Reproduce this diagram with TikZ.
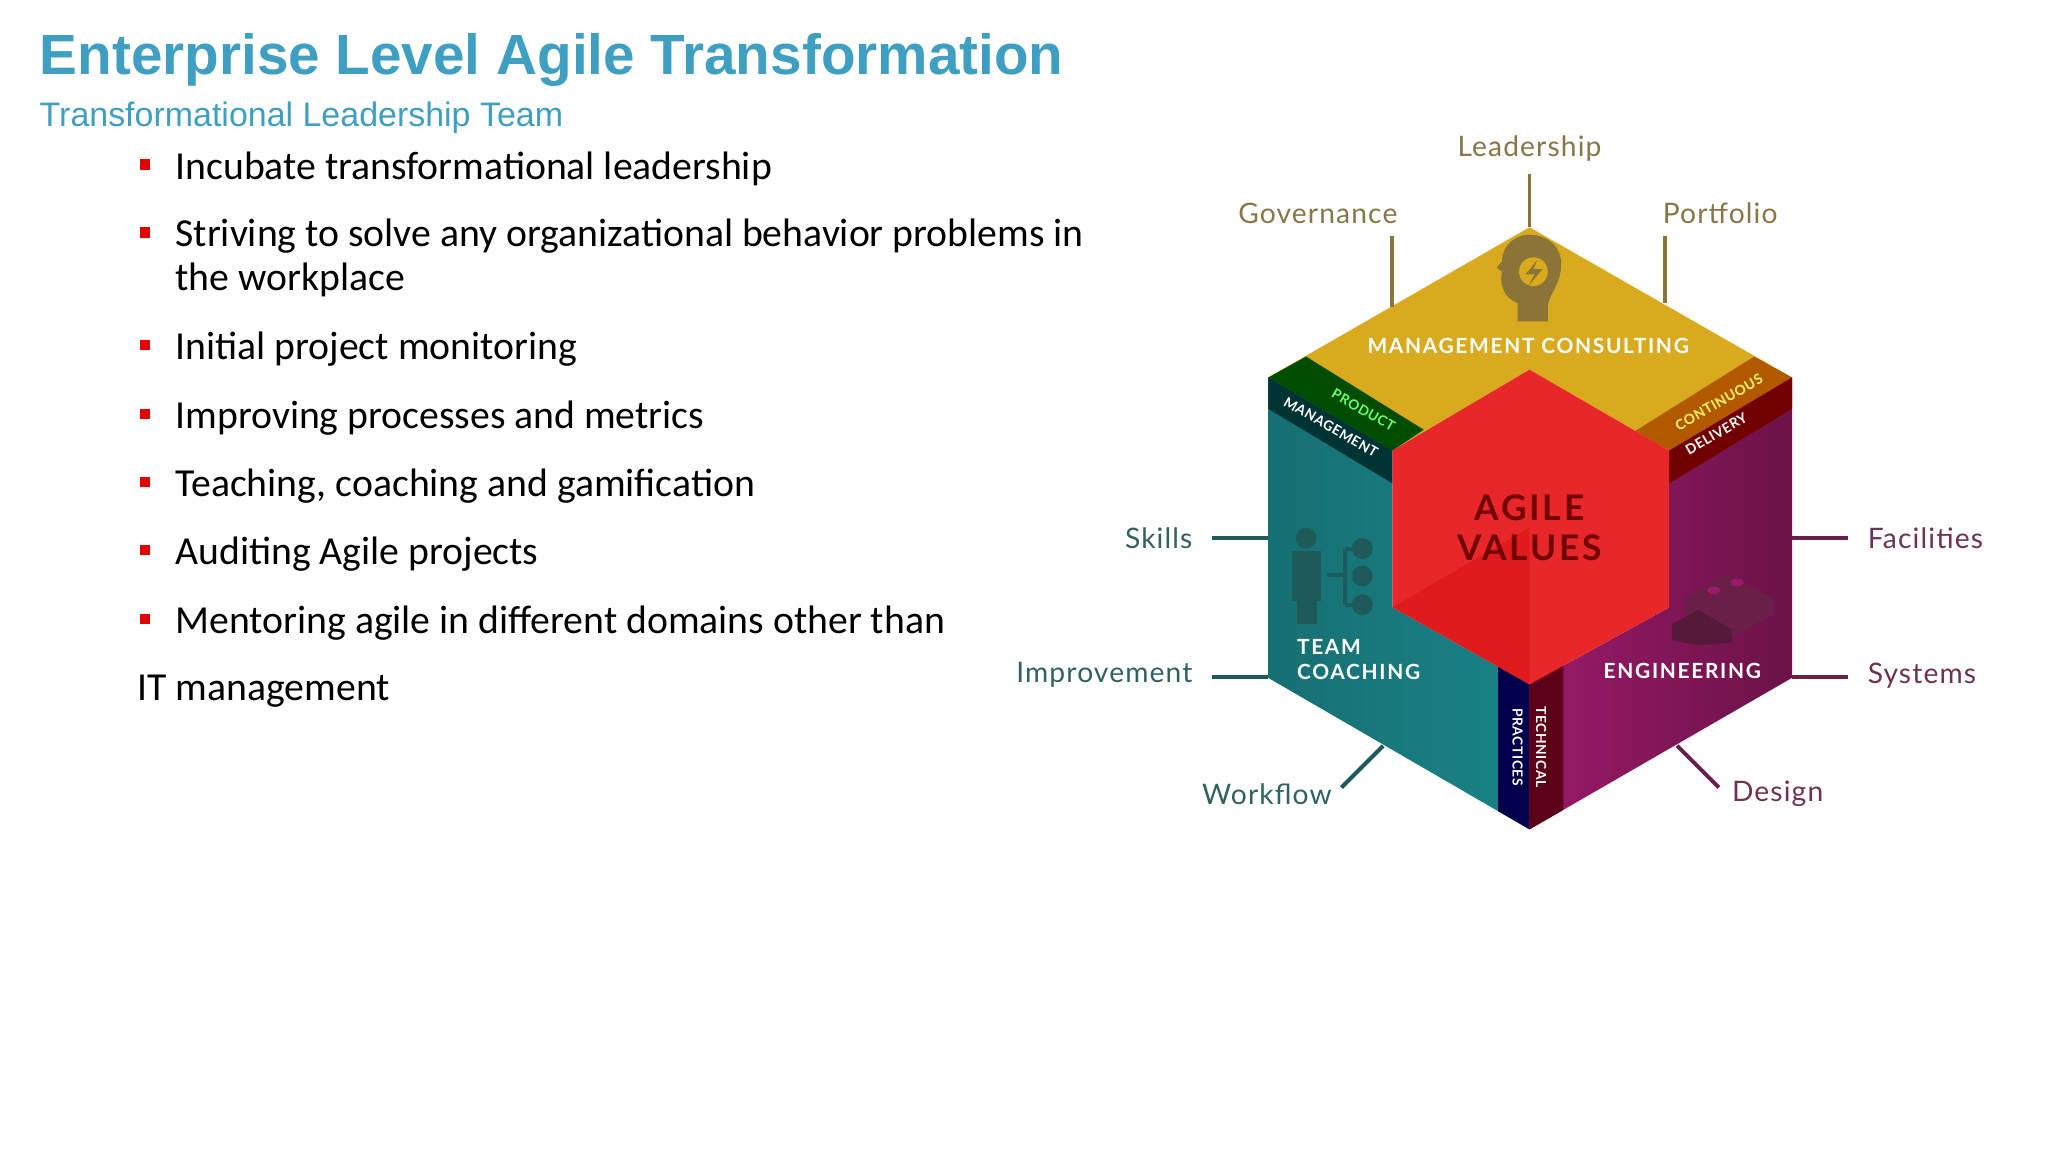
\documentclass[tikz,border=0pt]{standalone}
\usepackage{fontspec}
\setmainfont{Carlito}
\newfontfamily\arial{Liberation Sans}
\newfontfamily\lato[LetterSpace=4]{Lato}
\newfontfamily\latow[LetterSpace=8]{Lato}
\begin{document}
\begin{tikzpicture}[x=0.5pt,y=-0.5pt,
  bul/.style={anchor=west,inner sep=0,font=\fontsize{15.2}{18}\selectfont},
  sq/.style={fill=red!90!black,minimum size=4pt,inner sep=0},
  lab/.style={font=\lato\fontsize{10.8}{12}\selectfont},
  captxt/.style={font=\latow\bfseries\fontsize{8}{9.5}\selectfont,text=white,align=left},
  small/.style={font=\lato\bfseries\fontsize{5.3}{6}\selectfont,text=white,align=center,inner sep=0},
  topln/.style={draw=olivec,line width=1.5pt},
  lftln/.style={draw=tealln,line width=1.5pt},
  rgtln/.style={draw=magln,line width=1.5pt}]
\definecolor{titleblue}{HTML}{3E9FC2}
\definecolor{olivec}{HTML}{8A7437}
\definecolor{tealln}{HTML}{1E5A5A}
\definecolor{magln}{HTML}{6A1F48}
\definecolor{yel}{HTML}{D9A91E}
\definecolor{tealf}{HTML}{1A8387}
\definecolor{magf}{HTML}{9A1A68}
\definecolor{redf}{HTML}{E8272B}
\useasboundingbox (0,0) rectangle (1568,882);
\fill[white] (0,0) rectangle (1568,882);
% title
\node[anchor=west,inner sep=0,text=titleblue,font=\arial\bfseries\fontsize{21.7}{24}\selectfont] (title) at (30,46) {Enterprise Level Agile Transformation};
\node[anchor=west,inner sep=0,text=titleblue,font=\arial\fontsize{13}{15}\selectfont] (sub) at (30,90) {Transformational Leadership Team};
% bullets
\foreach \y/\t [count=\i] in {129/Incubate transformational leadership,181/Striving to solve any organizational behavior problems in,267/Initial project monitoring,320/Improving processes and metrics,372/{Teaching, coaching and gamification},424/Auditing Agile projects,477/Mentoring agile in different domains other than}{
  \node[sq] (s\i) at (111,\y-3) {};
  \node[bul] (b\i) at (134,\y) {\t};
}
\node[bul] (b2b) at (134,214) {the workplace};
\node[bul] (itm) at (105,529) {IT management};
% hexagon faces
\coordinate (T) at (1171,174); \coordinate (UR) at (1372,289); \coordinate (LR) at (1372,519);
\coordinate (B) at (1171,635); \coordinate (LL) at (971,519); \coordinate (UL) at (971,289);
\coordinate (iT) at (1171,283); \coordinate (iUR) at (1278,345); \coordinate (iLR) at (1278,465);
\coordinate (iB) at (1171,524); \coordinate (iLL) at (1066,465); \coordinate (iUL) at (1066,345);
\fill[yel] (T)--(UR)--(iUR)--(iT)--(iUL)--(UL)--cycle;
\shade[left color=tealf!85!black,right color=tealf] (UL)--(iUL)--(iLL)--(iB)--(B)--(LL)--cycle;
\shade[left color=magf,right color=magf!70!black] (UR)--(iUR)--(iLR)--(iB)--(B)--(LR)--cycle;
% strips
\fill[green!30!black] (1000,273)--(1090,329)--(iUL)--(UL)--cycle;
\fill[teal!40!black] (UL)--(iUL)--(1066,370)--(971,313)--cycle;
\fill[orange!70!black] (1343,273)--(UR)--(iUR)--(1252,330)--cycle;
\fill[red!45!black] (UR)--(1372,313)--(1278,370)--(iUR)--cycle;
\fill[blue!30!black] (1147,510)--(iB)--(B)--(1147,621)--cycle;
\fill[red!40!black!90!blue] (iB)--(1197,509)--(1197,620)--(B)--cycle;
% red hex
\fill[redf] (iT)--(iUR)--(iLR)--(iB)--(iLL)--(iUL)--cycle;
\fill[red!80!black,opacity=0.3] (1171,404)--(iLL)--(iB)--cycle;
\node[font=\latow\bfseries\fontsize{13.5}{15.5}\selectfont,text=red!45!black,align=center] (agile) at (1171,404) {AGILE\\VALUES};
% captions
\node[captxt] (mc) at (1170,265) {MANAGEMENT CONSULTING};
\node[captxt,anchor=west] (tc) at (986,505) {TEAM\\COACHING};
\node[captxt] (eng) at (1288,514) {ENGINEERING};
\node[small,rotate=-30,text=green!60!white] (pm1) at (1044,314) {PRODUCT};
\node[small,rotate=-30] (pm2) at (1019,327) {MANAGEMENT};
\node[small,rotate=30,text=yellow!60!white] (cd1) at (1316,308) {CONTINUOUS};
\node[small,rotate=30] (cd2) at (1314,332) {DELIVERY};
\node[small,rotate=-90] (tp1) at (1180,572) {TECHNICAL};
\node[small,rotate=-90] (tp2) at (1162,572) {PRACTICES};
% head icon
\fill[olivec] (1162,246) -- (1162,232) .. controls (1150,228) and (1148,215) .. (1150,208)
  -- (1146,205) -- (1150,200) .. controls (1150,185) and (1165,178) .. (1174,180)
  .. controls (1188,181) and (1197,192) .. (1195,206) .. controls (1194,218) and (1186,226) .. (1185,234) -- (1185,246) -- cycle;
\fill[yel] (1174,208) circle (11);
\fill[olivec] (1177,199)--(1168,210)--(1175,210)--(1170,219)--(1181,206)--(1174,206)--cycle;
% team icon
\fill[tealln] (1000,412) circle (8);
\fill[tealln] (989,422) rectangle (1011,460);
\fill[tealln] (993,458) rectangle (1008,478);
\draw[tealln,line width=1.5pt] (1016,440)--(1030,440) (1030,420)--(1030,463) (1030,420)--(1040,420) (1030,463)--(1040,463);
\foreach \yy in {420,441,463} \fill[tealln] (1043,\yy) circle (8);
% bricks icon
\fill[magln] (1290,458)--(1322,440)--(1358,458)--(1358,470)--(1326,488)--(1290,470)--cycle;
\fill[magln!80!black] (1280,478)--(1300,467)--(1326,482)--(1326,492)--(1300,494)--(1280,490)--cycle;
\fill[magf] (1312,452) ellipse (5 and 3) (1330,446) ellipse (5 and 3);
% connectors
\coordinate (cl1) at (1171,133); \coordinate (cl2) at (1066,181); \coordinate (cl2b) at (1066,235);
\coordinate (cl3) at (1275,181); \coordinate (cl3b) at (1275,232);
\draw[topln] (cl1)--(T); \draw[topln] (cl2)--(cl2b); \draw[topln] (cl3)--(cl3b);
\coordinate (sk) at (928,412); \coordinate (skb) at (971,412);
\coordinate (im) at (928,518); \coordinate (imb) at (971,518);
\coordinate (wf) at (1027,603); \coordinate (wfb) at (1059,571);
\draw[lftln] (sk)--(skb); \draw[lftln] (im)--(imb); \draw[lftln] (wf)--(wfb);
\coordinate (fa) at (1415,412); \coordinate (fab) at (1372,412);
\coordinate (sy) at (1415,518); \coordinate (syb) at (1372,518);
\coordinate (de) at (1316,603); \coordinate (deb) at (1284,571);
\draw[rgtln] (fa)--(fab); \draw[rgtln] (sy)--(syb); \draw[rgtln] (de)--(deb);
% labels
\node[lab,text=olivec!80!gray] (lead) at (1171,114) {Leadership};
\node[lab,text=olivec!80!gray] (gov) at (1009,163) {Governance};
\node[lab,text=olivec!80!gray] (port) at (1317,163) {Portfolio};
\node[lab,text=tealln!80!gray,anchor=east] (skl) at (920,412) {Skills};
\node[lab,text=tealln!80!gray,anchor=east] (iml) at (920,517) {Improvement};
\node[lab,text=tealln!80!gray] (wfl) at (970,608) {Workflow};
\node[lab,text=magln!80!gray,anchor=west] (fal) at (1423,412) {Facilities};
\node[lab,text=magln!80!gray,anchor=west] (syl) at (1423,517) {Systems};
\node[lab,text=magln!80!gray] (del) at (1361,608) {Design};
\end{tikzpicture}
\end{document}
